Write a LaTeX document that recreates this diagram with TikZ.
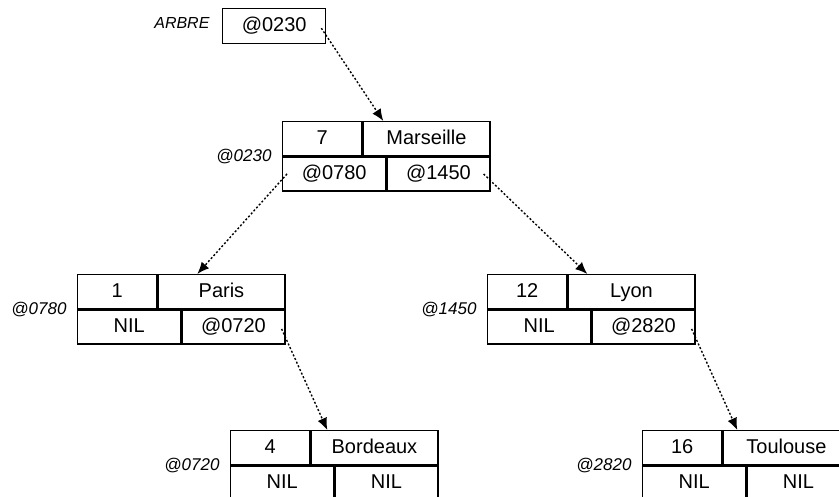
\documentclass[tikz,border=0pt]{standalone}
\usepackage{fontspec}
\setmainfont{Liberation Sans}
\usetikzlibrary{arrows.meta,calc}

\begin{document}
\begin{tikzpicture}[x=1pt,y=-1pt,
    cell/.style={draw, line width=1.3pt, inner sep=0pt, minimum height=34pt, text height=14pt, text depth=3pt, anchor=north west, font=\fontsize{20}{24}\selectfont},
    cle/.style={cell, minimum width=79pt},
    ville/.style={cell, minimum width=127pt},
    ptr/.style={cell, minimum width=103pt},
    adr/.style={anchor=east, font=\fontsize{17}{20}\selectfont\itshape},
    lien/.style={line width=1.4pt, dash pattern=on 2pt off 2pt, -{Latex[length=12pt,width=10pt]}}]
    \path[use as bounding box, fill=white] (0,0) rectangle (839,497);

    % racine
    \node[cell, minimum width=103pt, minimum height=35pt] (arbre) at (222,8) {@0230};
    \node[adr, font=\fontsize{16}{19}\selectfont\itshape] (arbre-l) at ([xshift=-9pt,yshift=3pt]arbre.west) {ARBRE};

    % Marseille
    \node[cle]   (mar-c) at (282,121) {7};
    \node[ville] (mar-v) at (mar-c.north east) {Marseille};
    \node[ptr]   (mar-g) at (mar-c.south west) {@0780};
    \node[ptr]   (mar-d) at (mar-g.north east) {@1450};
    \node[adr]   (mar-a) at ([xshift=-7pt]mar-c.south west) {@0230};

    % Paris
    \node[cle]   (par-c) at (77,274) {1};
    \node[ville] (par-v) at (par-c.north east) {Paris};
    \node[ptr]   (par-g) at (par-c.south west) {NIL};
    \node[ptr]   (par-d) at (par-g.north east) {@0720};
    \node[adr]   (par-a) at ([xshift=-7pt]par-c.south west) {@0780};

    % Lyon
    \node[cle]   (lyo-c) at (487,274) {12};
    \node[ville] (lyo-v) at (lyo-c.north east) {Lyon};
    \node[ptr]   (lyo-g) at (lyo-c.south west) {NIL};
    \node[ptr]   (lyo-d) at (lyo-g.north east) {@2820};
    \node[adr]   (lyo-a) at ([xshift=-7pt]lyo-c.south west) {@1450};

    % Bordeaux
    \node[cle]   (bor-c) at (230,430) {4};
    \node[ville] (bor-v) at (bor-c.north east) {Bordeaux};
    \node[ptr]   (bor-g) at (bor-c.south west) {NIL};
    \node[ptr]   (bor-d) at (bor-g.north east) {NIL};
    \node[adr]   (bor-a) at ([xshift=-7pt]bor-c.south west) {@0720};

    % Toulouse
    \node[cle]   (tou-c) at (642,430) {16};
    \node[ville] (tou-v) at (tou-c.north east) {Toulouse};
    \node[ptr]   (tou-g) at (tou-c.south west) {NIL};
    \node[ptr]   (tou-d) at (tou-g.north east) {NIL};
    \node[adr]   (tou-a) at ([xshift=-7pt]tou-c.south west) {@2820};

    % liens
    \draw[lien] ([xshift=-5pt,yshift=-2pt]arbre.east) -- ([xshift=21pt]mar-v.north west);
    \draw[lien] ([xshift=5pt]mar-g.west) -- ([xshift=40pt]par-v.north west);
    \draw[lien] ([xshift=-7pt]mar-d.east) -- ([xshift=20pt]lyo-v.north west);
    \draw[lien] ([xshift=-4pt,yshift=-2pt]par-d.east) -- ([xshift=17pt]bor-v.north west);
    \draw[lien] ([xshift=-4pt,yshift=-2pt]lyo-d.east) -- ([xshift=15pt]tou-v.north west);
\end{tikzpicture}
\end{document}
